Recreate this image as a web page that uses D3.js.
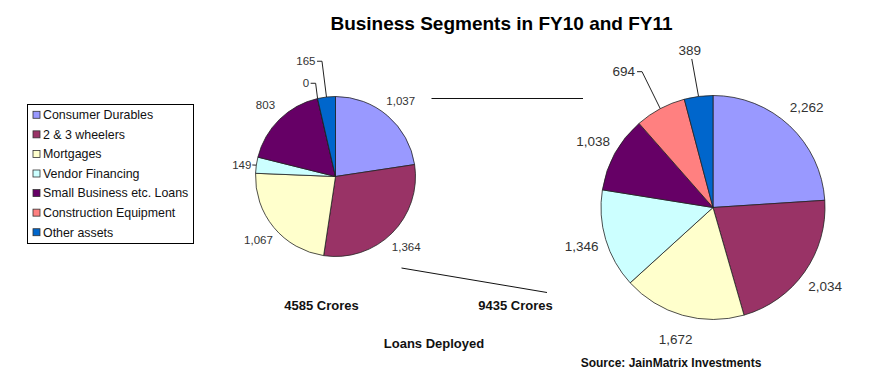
<!DOCTYPE html>
<html>
<head>
<meta charset="utf-8">
<script src="https://cdn.jsdelivr.net/npm/d3@7/dist/d3.min.js"></script>
<style>
  html, body { margin: 0; padding: 0; background: #fff; }
  svg { display: block; font-family: Arial, "Liberation Sans", sans-serif; }
</style>
</head>
<body>
<svg id="chart" width="881" height="379"></svg>
<script>
// ---- data ----
const categories = ["Consumer Durables", "2 & 3 wheelers", "Mortgages", "Vendor Financing",
                    "Small Business etc. Loans", "Construction Equipment", "Other assets"];
const fy10Values = [1037, 1364, 1067, 149, 803, 0, 165];
const fy11Values = [2262, 2034, 1672, 1346, 1038, 694, 389];
const totalLabels = ["4585 Crores", "9435 Crores"];
const titleText = "Business Segments in FY10 and FY11";
const subtitleText = "Loans Deployed";
const sourceText = "Source: JainMatrix Investments";

// ---- style ----
const colors = ["#9999FF", "#993366", "#FFFFCC", "#CCFFFF", "#660066", "#FF8080", "#0066CC"];

const svg = d3.select("#chart");
const W = 881, H = 379;

const pies = [
  { values: fy10Values, cx: 335.5, cy: 176.5, r: 80, fontSize: 11.5, labelGap: 20,
    leaders: { 3: { r: 94.5, a: 277, style: "direct" },
               5: { r: 97.8, a: 342.4, style: "side" },
               6: { r: 119, a: 345.6, style: "side" } },
    total: { x: 321.5, y: 310 } },
  { values: fy11Values, cx: 713, cy: 207.5, r: 112, fontSize: 13.5, labelGap: 25,
    leaders: { 5: { r: 162.5, a: 326.7, style: "side" },
               6: { r: 159, a: 351.6, style: "below" } },
    total: { x: 515.5, y: 310 } }
];

const pieGen = d3.pie().sort(null).value(d => d);
const fmt = d3.format(",");
const rad = deg => deg * Math.PI / 180;
const polar = (cx, cy, r, a) => [cx + r * Math.sin(a), cy - r * Math.cos(a)];

// connector lines between the two pies
const L = pies[0], R = pies[1];
svg.append("line")
  .attr("x1", L.cx + 96).attr("y1", L.cy - L.r + 2)
  .attr("x2", R.cx - 130).attr("y2", L.cy - L.r + 2)
  .attr("stroke", "#111").attr("stroke-width", 1);
svg.append("line")
  .attr("x1", L.cx + 66).attr("y1", L.cy + 91.5)
  .attr("x2", R.cx - 166).attr("y2", R.cy + 85)
  .attr("stroke", "#111").attr("stroke-width", 1);

pies.forEach(p => {
  const arcs = pieGen(p.values);
  const arcGen = d3.arc().innerRadius(0).outerRadius(p.r);
  const g = svg.append("g").attr("transform", `translate(${p.cx},${p.cy})`);
  g.selectAll("path.slice").data(arcs).enter().append("path")
    .attr("class", "slice")
    .attr("d", arcGen)
    .attr("fill", (d, i) => colors[i])
    .attr("stroke", "#222")
    .attr("stroke-width", 0.8)
    .attr("stroke-linejoin", "round");

  arcs.forEach((d, i) => {
    const mid = (d.startAngle + d.endAngle) / 2;
    const txt = fmt(d.value);
    const lead = p.leaders[i];
    if (!lead) {
      const [x, y] = polar(0, 0, p.r + p.labelGap, mid);
      g.append("text").attr("x", x).attr("y", y).attr("dy", "0.35em")
        .attr("text-anchor", "middle").attr("font-size", p.fontSize)
        .attr("fill", "#333").text(txt);
    } else {
      const [lx, ly] = polar(0, 0, lead.r, rad(lead.a));
      const t = g.append("text").attr("x", lx).attr("y", ly).attr("dy", "0.35em")
        .attr("text-anchor", "middle").attr("font-size", p.fontSize)
        .attr("fill", "#333").text(txt);
      const bb = t.node().getBBox();
      const [ex, ey] = polar(0, 0, p.r, mid);
      let path;
      if (lead.style === "side") {
        const x0 = bb.x + bb.width + 1.5;
        path = `M${x0},${ly} H${x0 + 5} L${ex},${ey}`;
      } else if (lead.style === "direct") {
        const x0 = bb.x + bb.width + 1;
        path = `M${x0},${ly} L${ex},${ey}`;
      } else {
        path = `M${lx + 2},${bb.y + bb.height + 1} L${ex},${ey}`;
      }
      g.append("path").attr("d", path).attr("fill", "none")
        .attr("stroke", "#222").attr("stroke-width", 1);
    }
  });
});

// totals
pies.forEach((p, i) => {
  svg.append("text").attr("x", p.total.x).attr("y", p.total.y)
    .attr("text-anchor", "middle").attr("font-size", 13).attr("font-weight", "bold")
    .attr("fill", "#111").text(totalLabels[i]);
});

// title, subtitle, source
svg.append("text").attr("x", 501.5).attr("y", 30).attr("text-anchor", "middle")
  .attr("font-size", 19).attr("font-weight", "bold").attr("fill", "#000").text(titleText);
svg.append("text").attr("x", 434).attr("y", 348).attr("text-anchor", "middle")
  .attr("font-size", 13).attr("font-weight", "bold").attr("fill", "#111").text(subtitleText);
svg.append("text").attr("x", 671).attr("y", 367).attr("text-anchor", "middle")
  .attr("font-size", 12).attr("font-weight", "bold").attr("fill", "#111").text(sourceText);

// legend
const legend = svg.append("g").attr("transform", "translate(27,104)");
legend.append("rect").attr("x", 0.5).attr("y", 0.5).attr("width", 166).attr("height", 139)
  .attr("fill", "#fff").attr("stroke", "#000").attr("stroke-width", 1);
const rowY = d3.scaleBand().domain(categories).range([1, 138]);
const items = legend.selectAll("g.item").data(categories).enter().append("g")
  .attr("class", "item")
  .attr("transform", d => `translate(0,${rowY(d) + rowY.bandwidth() / 2})`);
items.append("rect").attr("x", 6).attr("y", -3.5).attr("width", 7).attr("height", 7)
  .attr("fill", (d, i) => colors[i]).attr("stroke", "#333").attr("stroke-width", 0.8);
items.append("text").attr("x", 16).attr("y", 0).attr("dy", "0.35em")
  .attr("font-size", 12.4).attr("fill", "#111").text(d => d);
</script>
</body>
</html>
